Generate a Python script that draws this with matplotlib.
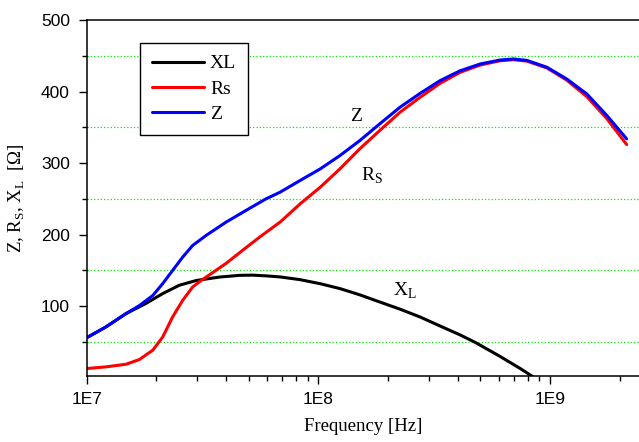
import matplotlib
matplotlib.use("Agg")
import numpy as np
import matplotlib.pyplot as plt
from matplotlib.ticker import FixedLocator, LogLocator, NullFormatter, FuncFormatter

# Data (frequency in Hz, impedance in Ohm)
freq_xl = [1.0e7, 1.21e7, 1.48e7, 1.80e7, 2.13e7, 2.51e7, 2.97e7, 3.74e7, 4.56e7,
           5.20e7, 5.94e7, 6.84e7, 8.34e7, 1.02e8, 1.24e8, 1.51e8, 1.84e8, 2.25e8,
           2.75e8, 3.35e8, 4.09e8, 4.74e8, 6.08e8, 7.43e8, 8.45e8]
xl = [56, 71, 89.8, 103.8, 117.7, 129.3, 136, 140.8, 143.2,
      143.5, 142.5, 141, 137.2, 131.5, 124.7, 116, 106, 96,
      85, 72.5, 60, 49.8, 30, 13.1, 1.4]

freq_rs = [1.0e7, 1.21e7, 1.48e7, 1.69e7, 1.93e7, 2.13e7, 2.35e7, 2.60e7, 2.87e7,
           3.12e7, 3.50e7, 4.00e7, 4.88e7, 5.60e7, 6.84e7, 8.34e7, 1.02e8, 1.24e8,
           1.51e8, 1.84e8, 2.25e8, 2.75e8, 3.35e8, 4.09e8, 4.99e8, 6.08e8, 6.95e8,
           7.94e8, 9.69e8, 1.18e9, 1.44e9, 1.76e9, 2.14e9]
rs = [13, 15.3, 19, 25.6, 38.6, 57, 85, 108.4, 127,
      136, 147, 160, 182, 197, 217.6, 243, 266.4, 292,
      320, 345.5, 371, 392, 411.4, 426.8, 437, 443, 444.5,
      442.5, 433, 416, 393, 362, 326]

freq_z = [1.0e7, 1.21e7, 1.48e7, 1.69e7, 1.93e7, 2.13e7, 2.35e7, 2.60e7, 2.87e7,
          3.28e7, 4.00e7, 4.88e7, 5.94e7, 6.84e7, 8.34e7, 1.02e8, 1.24e8, 1.51e8,
          1.84e8, 2.25e8, 2.75e8, 3.35e8, 4.09e8, 4.99e8, 6.08e8, 6.95e8, 7.94e8,
          9.69e8, 1.18e9, 1.44e9, 1.76e9, 2.14e9]
z = [56, 71, 89.8, 101, 115, 131.6, 150, 168.8, 185,
     199, 217.6, 234, 250, 259.4, 275.7, 292, 310.6, 331.5,
     354.8, 378, 397.5, 415.2, 429, 438.5, 444, 445.5, 443.5,
     434, 417.6, 396.7, 366.4, 333.9]

grid_levels = [50, 150, 250, 350, 450]
major_y = [100, 200, 300, 400, 500]

plt.rcParams['font.family'] = ['Liberation Sans', 'DejaVu Sans']
plt.rcParams['mathtext.fontset'] = 'custom'
plt.rcParams['mathtext.rm'] = 'Liberation Serif'
SERIF = ['Liberation Serif', 'DejaVu Serif']

fig = plt.figure(figsize=(6.39, 4.42), dpi=100)
ax = fig.add_axes([0.1355, 0.15, 0.8645, 0.8048])

for lvl in grid_levels:
    ax.axhline(lvl, color='#00ee00', linestyle=':', lw=0.9, zorder=0)

style = dict(lw=2.2, solid_joinstyle='round', solid_capstyle='round')
ax.plot(freq_xl, xl, color='black', label='XL', **style)
ax.plot(freq_rs, rs, color='#ff0000', label='Rs', **style)
ax.plot(freq_z, z, color='#0000ff', label='Z', **style)

ax.set_xscale('log')
ax.set_xlim(1e7, 2.42e9)
ax.set_ylim(3, 500)

ax.xaxis.set_major_locator(LogLocator(base=10))
ax.xaxis.set_minor_locator(LogLocator(base=10, subs=range(2, 10)))
ax.xaxis.set_minor_formatter(NullFormatter())
ax.xaxis.set_major_formatter(FuncFormatter(lambda v, p: "1E%d" % round(np.log10(v))))
ax.yaxis.set_major_locator(FixedLocator(major_y))
ax.yaxis.set_minor_locator(FixedLocator(grid_levels))

ax.tick_params(which='major', direction='out', length=6, width=1, labelsize=12.5, pad=6)
ax.tick_params(which='minor', direction='out', length=3.5, width=1)
ax.spines['right'].set_visible(False)
for s in ['left', 'bottom', 'top']:
    ax.spines[s].set_linewidth(1.1)

ax.set_xlabel('Frequency [Hz]', family=SERIF, fontsize=13.5, labelpad=8)
ax.set_ylabel(r'Z, R$_\mathregular{S}$, X$_\mathregular{L}$  [Ω]', family=SERIF, fontsize=13.5, labelpad=10)

# curve labels
ax.text(1.46e8, 365, 'Z', family=SERIF, fontsize=14, ha='center', va='center')
ax.text(1.71e8, 282, r'R$_\mathregular{S}$', family=SERIF, fontsize=14, ha='center', va='center')
ax.text(2.37e8, 121, r'X$_\mathregular{L}$', family=SERIF, fontsize=14, ha='center', va='center')

leg = ax.legend(loc='upper left', bbox_to_anchor=(0.0967, 0.935), borderaxespad=0,
                fancybox=False, framealpha=1, edgecolor='black',
                prop={'family': SERIF, 'size': 14}, handlelength=2.7,
                handletextpad=0.3, labelspacing=0.4, borderpad=0.6)
leg.get_frame().set_linewidth(1.0)

fig.savefig('out.png', dpi=100)
